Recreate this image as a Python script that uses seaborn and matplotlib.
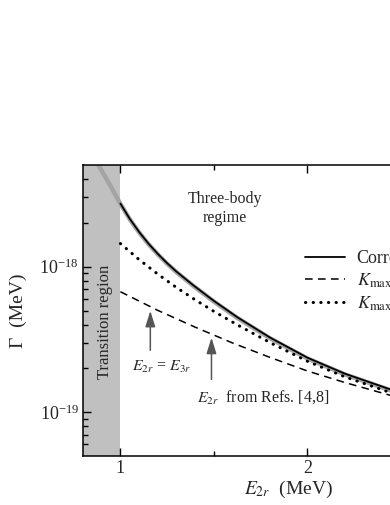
import numpy as np
import matplotlib
matplotlib.use("Agg")
import matplotlib.pyplot as plt
import matplotlib.ticker as mticker
import seaborn as sns

sns.set_theme(style="ticks")
plt.rcParams["font.family"] = ["Liberation Serif", "DejaVu Serif"]
plt.rcParams["mathtext.fontset"] = "stix"

# energies (MeV) and widths (MeV)
e_corr = [1.0, 1.05, 1.1, 1.15, 1.2, 1.25, 1.3, 1.39, 1.5, 1.626, 1.8, 2.0, 2.2, 2.44, 2.7, 3.0]
g_corr = [2.716e-18, 2.133e-18, 1.734e-18, 1.442e-18, 1.225e-18, 1.057e-18, 9.25e-19, 7.45e-19,
          5.82e-19, 4.49e-19, 3.26e-19, 2.37e-19, 1.84e-19, 1.44e-19, 1.15e-19, 9.29e-20]

e_gray = [0.85, 0.9, 0.95, 1.0, 1.05, 1.1, 1.15, 1.2, 1.25, 1.3, 1.39, 1.5, 1.626, 1.8, 2.0, 2.2, 2.44, 2.7, 3.0]
g_gray = [5.9e-18, 4.56e-18, 3.54e-18, 2.70e-18, 2.12e-18, 1.72e-18, 1.43e-18, 1.215e-18, 1.048e-18,
          9.17e-19, 7.38e-19, 5.76e-19, 4.44e-19, 3.22e-19, 2.34e-19, 1.82e-19, 1.42e-19, 1.13e-19, 9.15e-20]

e_dash = [1.0, 1.2, 1.4, 1.6, 1.8, 2.0, 2.2, 2.44, 2.7, 3.0]
g_dash = [6.73e-19, 5.01e-19, 3.84e-19, 2.99e-19, 2.38e-19, 1.92e-19, 1.60e-19, 1.31e-19, 1.08e-19, 8.93e-20]

e_dot = [1.0, 1.1, 1.2, 1.3, 1.4, 1.5, 1.626, 1.8, 2.0, 2.2, 2.44, 2.7, 3.0]
g_dot = [1.442e-18, 1.119e-18, 8.89e-19, 7.19e-19, 5.92e-19, 4.93e-19, 3.98e-19, 3.01e-19,
         2.24e-19, 1.75e-19, 1.37e-19, 1.10e-19, 8.85e-20]

y_major = [1e-19, 1e-18]
y_minor = [6e-20, 7e-20, 8e-20, 9e-20, 2e-19, 3e-19, 4e-19, 5e-19, 6e-19, 7e-19, 8e-19, 9e-19,
           2e-18, 3e-18, 4e-18]

labels = ["Correct", r"$K_{\rm max}=E_{2r}$", r"$K_{\rm max}=E_{3r}$"]

fig = plt.figure(figsize=(3.9, 5.05), dpi=100)
ax = fig.add_axes([83 / 390, 49 / 505, 411.4 / 390, 291 / 505])

ax.axvspan(0.8, 1.0, color="#c0c0c0", lw=0, zorder=0)
sns.lineplot(x=e_gray, y=g_gray, ax=ax, color="#a4a4a4", lw=3.2, zorder=1)
sns.lineplot(x=e_corr, y=g_corr, ax=ax, color="black", lw=1.3, zorder=3, label=labels[0])
sns.lineplot(x=e_dash, y=g_dash, ax=ax, color="black", lw=1.1, zorder=3, label=labels[1])
sns.lineplot(x=e_dot, y=g_dot, ax=ax, color="black", lw=1.1, zorder=3, label=labels[2])
lines = ax.get_lines()
lines[2].set_linestyle((0, (5, 3.5)))
lines[3].set_linestyle((0, (0.1, 2.4)))
lines[3].set_linewidth(2.2)
lines[3].set_dash_capstyle("round")

ax.set_yscale("log")
ax.set_xlim(0.8, 3.0)
ax.set_ylim(5e-20, 5e-18)
ax.set_yticks(y_major)
ax.set_yticks(y_minor, minor=True)
ax.yaxis.set_minor_formatter(mticker.NullFormatter())
ax.set_xticks([1, 2])
ax.set_xticks([1.5, 2.5], minor=True)
ax.set_xticklabels(["1", "2"])

ax.tick_params(which="both", direction="in", top=True, right=True, color="black", width=1)
ax.tick_params(which="major", length=6, labelsize=13, pad=3)
ax.tick_params(which="minor", length=3.5)
for s in ax.spines.values():
    s.set_color("black")
    s.set_linewidth(1.1)

ax.set_xlabel(r"$E_{2r}$  (MeV)", fontsize=14, labelpad=1)
ax.set_ylabel("Γ  (MeV)", fontsize=14, labelpad=9)

ax.text(1.557, 2.5e-18, "Three-body\nregime", ha="center", va="center", fontsize=11.5,
        linespacing=1.25)
ax.text(0.92, 4.2e-19, "Transition region", rotation=90, ha="center", va="center", fontsize=12)

arrow = dict(arrowstyle="-|>,head_length=0.8,head_width=0.25", color="#555555", lw=1.1)
ax.annotate("", xy=(1.16, 5.2e-19), xytext=(1.16, 2.55e-19), arrowprops=arrow)
ax.annotate("", xy=(1.487, 3.4e-19), xytext=(1.487, 1.61e-19), arrowprops=arrow)
ax.text(1.22, 2.04e-19, r"$E_{2r}$ = $E_{3r}$", ha="center", va="center", fontsize=11.5)
ax.text(1.765, 1.27e-19, r"$E_{2r}$  from Refs. [4,8]", ha="center", va="center", fontsize=11.5)

ax.legend(loc="upper left", bbox_to_anchor=(298 / 390, 1 - 243 / 505), bbox_transform=fig.transFigure,
          frameon=False, fontsize=13, handlelength=2.2, handletextpad=0.65, labelspacing=0.25,
          borderaxespad=0)

fig.savefig("out.png", dpi=100)
